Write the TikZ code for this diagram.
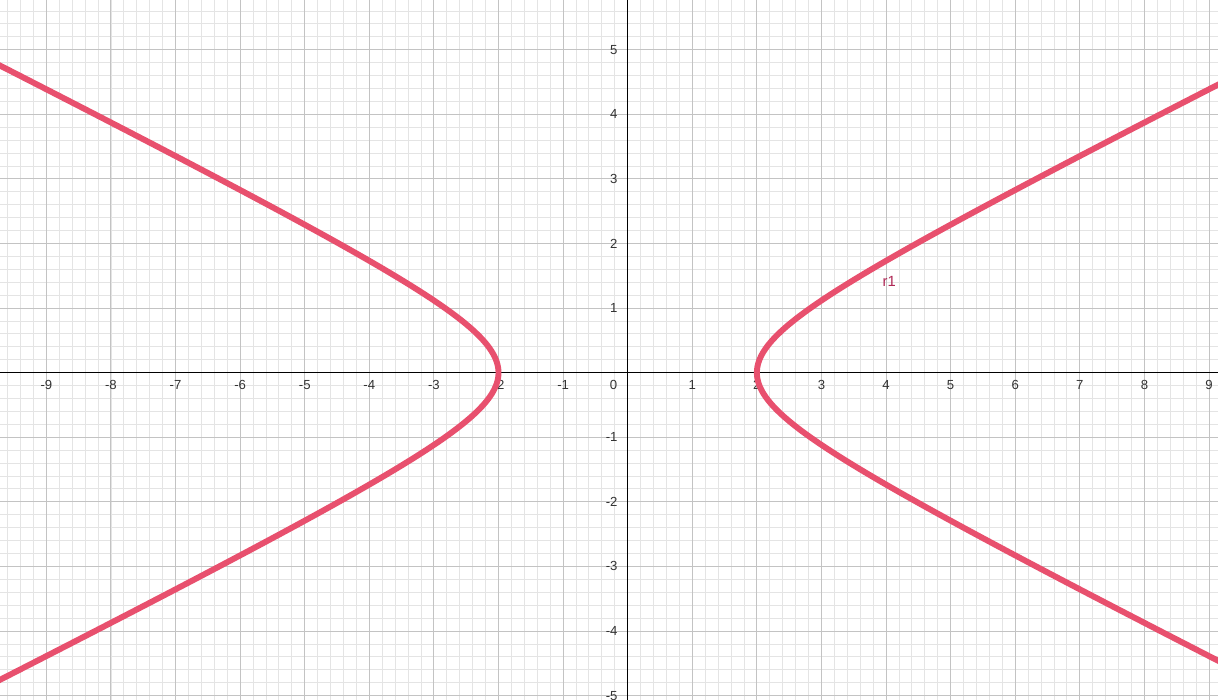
\documentclass[tikz,border=0pt]{standalone}
\usepackage{fontspec}
\setmainfont{Liberation Sans}
\definecolor{curvecol}{RGB}{232,80,110}
\definecolor{labcol}{RGB}{175,40,85}
\definecolor{majorgrid}{RGB}{195,195,195}
\definecolor{minorgrid}{RGB}{228,228,228}
\begin{document}
\begin{tikzpicture}[x=1cm,y=1cm,
  minorline/.style={draw=minorgrid,line width=0.4pt},
  majorline/.style={draw=majorgrid,line width=0.45pt},
  axisline/.style={draw=black,line width=0.6pt},
  curveline/.style={draw=curvecol,line width=2.6pt},
  ticklab/.style={font=\fontsize{5.8pt}{6.5pt}\selectfont,text=black!80,inner sep=0pt},
  curvelab/.style={font=\fontsize{6.5pt}{7pt}\selectfont,text=labcol,inner sep=0pt}]
\useasboundingbox (-9.718,-5.067) rectangle (9.139,5.770);
\clip (-9.718,-5.067) rectangle (9.139,5.770);
\fill[white] (-9.718,-5.067) rectangle (9.139,5.770);
\draw[minorline] (-9.8,-5.2) grid[step=0.2] (9.2,5.8);
\draw[majorline] (-9.8,-5.2) grid[step=1] (9.2,5.8);
\draw[axisline] (-9.8,0) -- (9.2,0);
\draw[axisline] (0,-5.2) -- (0,5.8);
\foreach \i in {-9,...,-1,1,2,...,9}
  \node[ticklab] (xl\i) at (\i,-0.19) {\i};
\node[ticklab] (zero) at (-0.22,-0.19) {0};
\foreach \j in {-5,...,-1,1,2,...,5}
  \node[ticklab,anchor=east] (yl\j) at (-0.15,\j) {\j};
\draw[curveline] plot[domain=-2.5:2.5,samples=200,smooth,variable=\t] ({2*cosh(\t)},{sinh(\t)});
\draw[curveline] plot[domain=-2.5:2.5,samples=200,smooth,variable=\t] ({-2*cosh(\t)},{sinh(\t)});
\node[curvelab] (r1) at (4.05,1.42) {r1};
\end{tikzpicture}
\end{document}
